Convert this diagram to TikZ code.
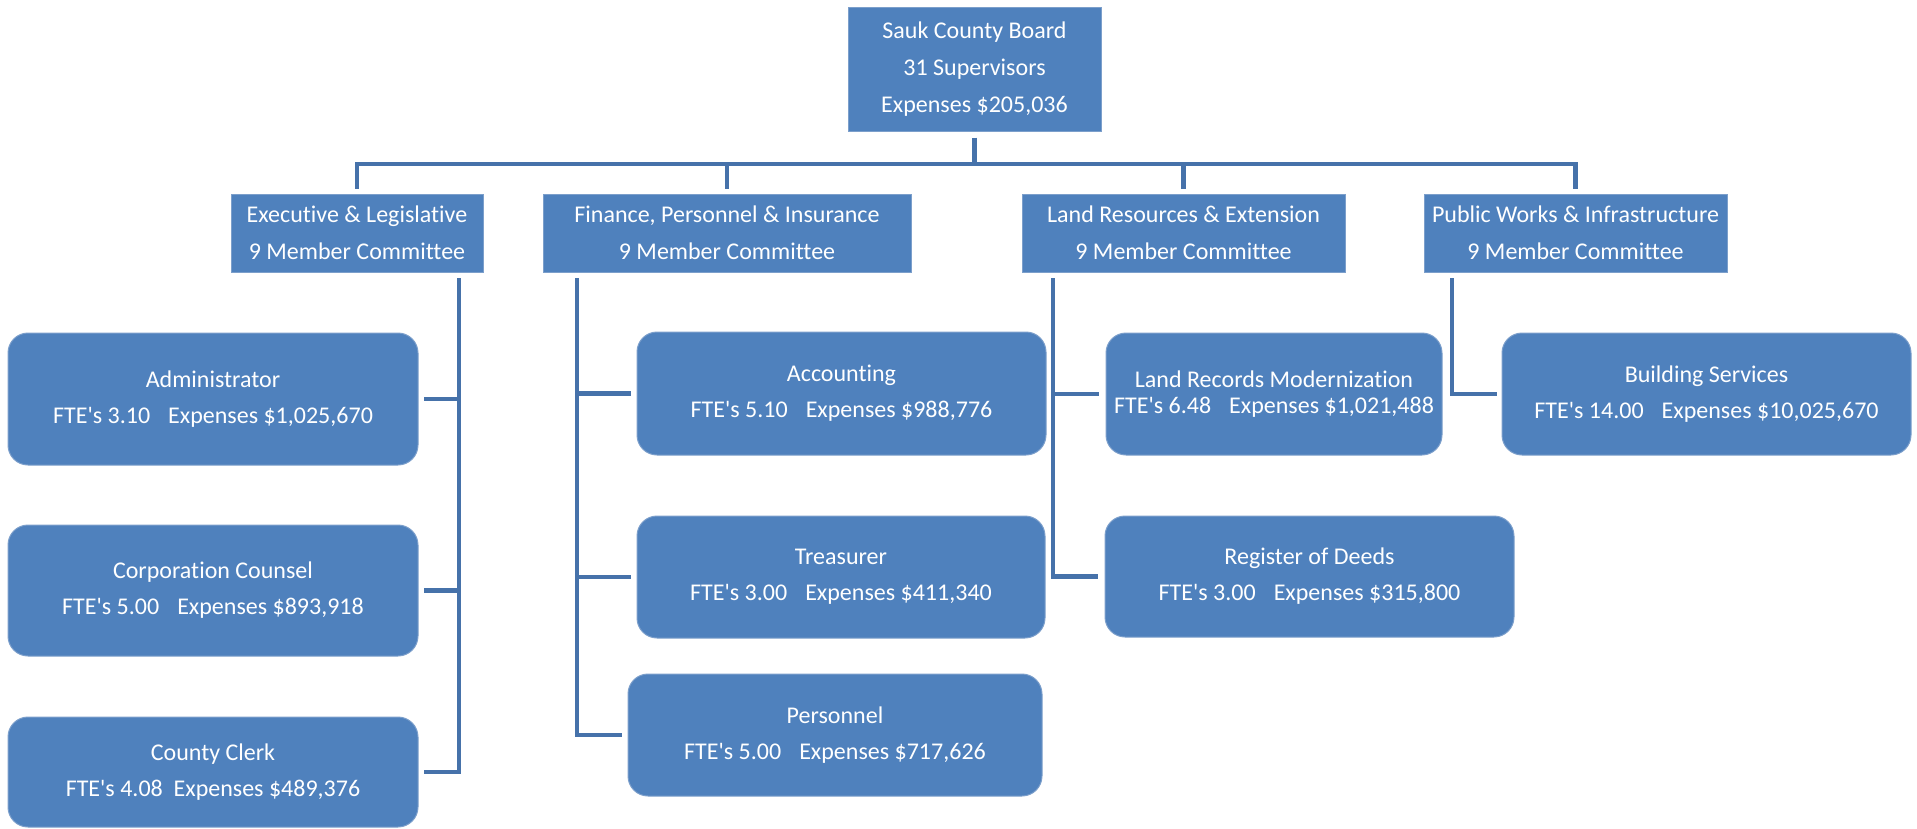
\documentclass[tikz,border=0pt]{standalone}
\usepackage{fontspec}
\setmainfont{Carlito}[Ligatures=NoCommon]
\definecolor{boxblue}{HTML}{4F81BD}
\definecolor{lineblue}{HTML}{4672AA}
\definecolor{edgeblue}{HTML}{7C9FCB}
\tikzset{
	committee/.style={rectangle, fill=boxblue, draw=edgeblue, line width=1pt, text=white, align=center, inner sep=0pt, font=\fontsize{24}{37}\selectfont},
	office/.style={committee, rounded corners=20pt, font=\fontsize{24}{36}\selectfont},
	conn/.style={draw=lineblue, line width=4.5pt}
}
\newcommand{\gap}{\hspace{0.75em}}
\newcommand{\fte}{FTE\textquotesingle s}

\begin{document}
\begin{tikzpicture}[x=1pt, y=-1pt]
			%%%%% START %%%%%
			\useasboundingbox (0, 0) rectangle (1917, 828);
			
			\node[committee, minimum width=253pt, minimum height=124pt] (board) at (974.5, 69) {Sauk County Board\\31 Supervisors\\Expenses \$205,036};
			
			% committees
			\node[committee, minimum width=252pt, minimum height=78pt] (exec) at (357, 233) {Executive \& Legislative\\9 Member Committee};
			\node[committee, minimum width=368pt, minimum height=78pt] (fin) at (727, 233) {Finance, Personnel \& Insurance\\9 Member Committee};
			\node[committee, minimum width=323pt, minimum height=78pt] (land) at (1183.5, 233) {Land Resources \& Extension\\9 Member Committee};
			\node[committee, minimum width=303pt, minimum height=78pt] (pw) at (1575.5, 233) {Public Works \& Infrastructure\\9 Member Committee};
			
			% departments
			\node[office, minimum width=410pt, minimum height=132pt] (admin) at (213, 399) {Administrator\\\fte{} 3.10\gap Expenses \$1,025,670};
			\node[office, minimum width=410pt, minimum height=131pt] (corp) at (213, 590.5) {Corporation Counsel\\\fte{} 5.00\gap Expenses \$893,918};
			\node[office, minimum width=410pt, minimum height=110pt] (clerk) at (213, 772) {County Clerk\\\fte{} 4.08\hspace{0.45em}Expenses \$489,376};
			
			\node[office, minimum width=409pt, minimum height=123pt] (acct) at (841.5, 393.5) {Accounting\\\fte{} 5.10\gap Expenses \$988,776};
			\node[office, minimum width=408pt, minimum height=122pt] (treas) at (841, 577) {Treasurer\\\fte{} 3.00\gap Expenses \$411,340};
			\node[office, minimum width=414pt, minimum height=122pt] (pers) at (835, 735) {Personnel\\\fte{} 5.00\gap Expenses \$717,626};
			
			\node[office, minimum width=336pt, minimum height=122pt, font=\fontsize{24}{26}\selectfont] (lrm) at (1274, 394) {Land Records Modernization\\\fte{} 6.48\gap Expenses \$1,021,488};
			\node[office, minimum width=409pt, minimum height=121pt] (rod) at (1309.5, 576.5) {Register of Deeds\\\fte{} 3.00\gap Expenses \$315,800};
			
			\node[office, minimum width=409pt, minimum height=122pt] (bldg) at (1706.5, 394) {Building Services\\\fte{} 14.00\gap Expenses \$10,025,670};
			
			% board to committees
			\coordinate (bus) at (974.5, 164);
			\draw[conn, shorten <=6pt] (board.south) -- (bus);
			\foreach \c in {exec, fin, land, pw}
				\draw[conn, shorten >=5pt] (bus) -| (\c.north);
			
			% committees to departments
			\coordinate (execdrop) at (459, 278);
			\coordinate (findrop) at (577, 278);
			\coordinate (landdrop) at (1053, 278);
			\coordinate (pwdrop) at (1452, 278);
			
			\draw[conn, shorten >=5pt] (execdrop) |- (clerk.east);
			\draw[conn, shorten >=5pt] (execdrop |- admin.east) -- (admin.east);
			\draw[conn, shorten >=5pt] (execdrop |- corp.east) -- (corp.east);
			
			\draw[conn, shorten >=6pt] (findrop) |- (pers.west);
			\draw[conn, shorten >=6pt] (findrop |- acct.west) -- (acct.west);
			\draw[conn, shorten >=6pt] (findrop |- treas.west) -- (treas.west);
			
			\draw[conn, shorten >=7pt] (landdrop) |- (rod.west);
			\draw[conn, shorten >=7pt] (landdrop |- lrm.west) -- (lrm.west);
			
			\draw[conn, shorten >=5pt] (pwdrop) |- (bldg.west);
			%%%%% END %%%%%
\end{tikzpicture}
\end{document}
